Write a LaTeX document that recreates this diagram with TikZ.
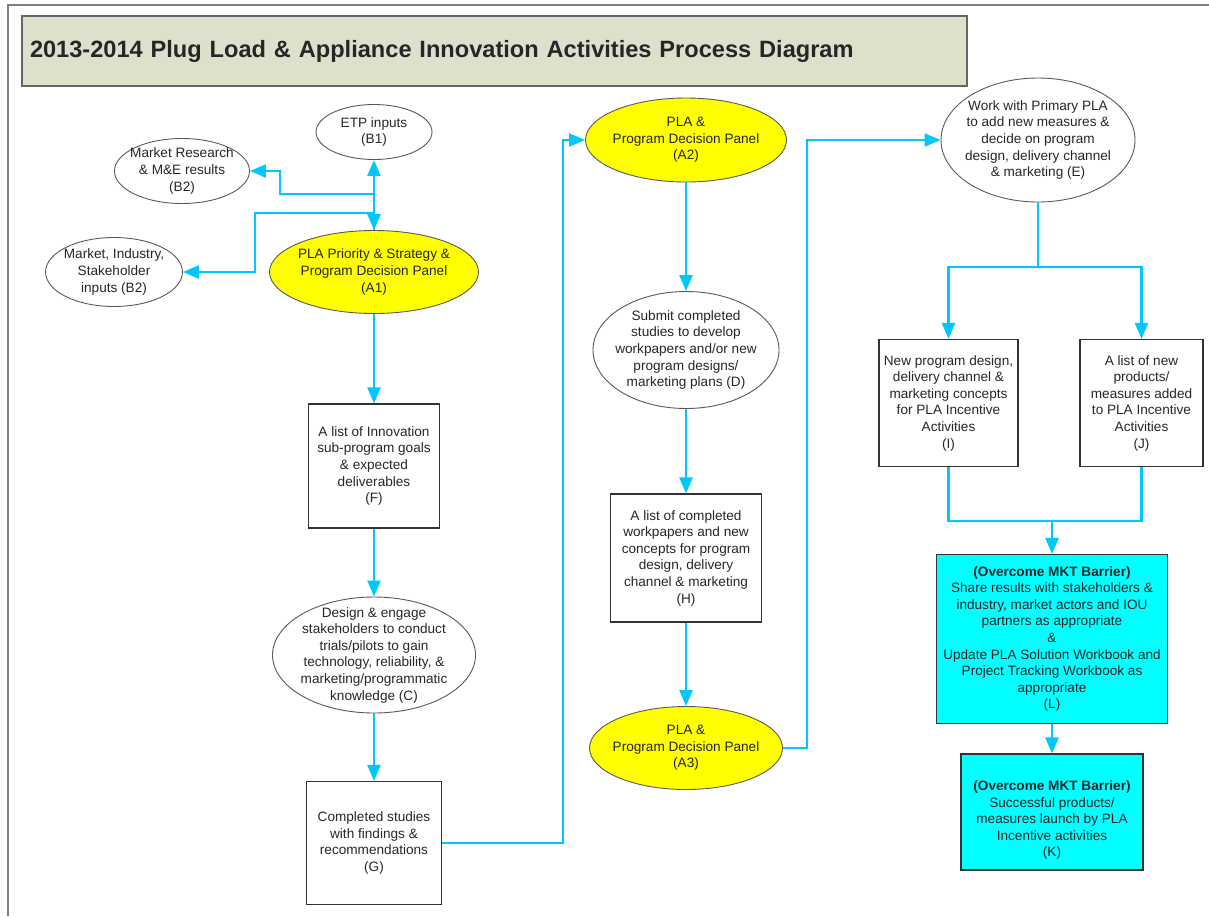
\documentclass[tikz,border=0pt]{standalone}
\usepackage{fontspec}
\setmainfont{Liberation Sans}
\usetikzlibrary{shapes.geometric,arrows.meta}

\definecolor{flowblue}{RGB}{0,200,255}
\definecolor{panelyellow}{RGB}{255,255,0}
\definecolor{barriercyan}{RGB}{0,255,255}
\definecolor{titlegreen}{RGB}{221,225,204}

\begin{document}
\begin{tikzpicture}[x=1pt, y=-1pt,
    every node/.style={font=\fontsize{13.6}{16.6}\selectfont, align=center, text=black!85},
    oval/.style={ellipse, draw=black!65, line width=0.9pt, inner sep=-40pt},
    panel/.style={oval, fill=panelyellow},
    listbox/.style={rectangle, draw=black!80, line width=1.1pt, inner sep=2pt},
    barrier/.style={listbox, fill=barriercyan},
    titlebox/.style={rectangle, draw=black!60, line width=1.5pt, fill=titlegreen,
                     inner xsep=8pt, text width=929pt, align=left,
                     font=\fontsize{23.6}{28}\selectfont\bfseries},
    link/.style={draw=flowblue, line width=2.4pt},
    flow/.style={link, -{Triangle[length=16pt,width=13pt]}},
    twoway/.style={link, {Triangle[length=16pt,width=13pt]}-{Triangle[length=16pt,width=13pt]}}]
  \useasboundingbox (0,0) rectangle (1209,916);
  \draw[black!50, line width=2pt] (8,916) -- (8,5) -- (1209,5);

  \node[titlebox, minimum width=945pt, minimum height=70pt] (title) at (494.5,51)
    {2013-2014 Plug Load \& Appliance Innovation Activities Process Diagram};

  % inputs and first panel
  \node[oval, minimum width=116pt, minimum height=55pt] (B1) at (374,132) {ETP inputs\\(B1)};
  \node[oval, minimum width=135pt, minimum height=65pt] (B2r) at (182,171) {Market Research\\\& M\&E results\\(B2)};
  \node[oval, minimum width=137pt, minimum height=69pt] (B2s) at (114,272) {Market, Industry,\\Stakeholder\\inputs (B2)};
  \node[panel, minimum width=209pt, minimum height=83pt] (A1) at (374,272) {PLA Priority \& Strategy \&\\Program Decision Panel\\(A1)};

  % left column
  \node[listbox, minimum width=131pt, minimum height=124pt] (F) at (374,466) {A list of Innovation\\sub-program goals\\\& expected\\deliverables\\(F)};
  \node[oval, minimum width=203pt, minimum height=116pt] (C) at (374,655) {Design \& engage\\stakeholders to conduct\\trials/pilots to gain\\technology, reliability, \&\\marketing/programmatic\\knowledge (C)};
  \node[listbox, minimum width=135pt, minimum height=123pt] (G) at (374,843) {Completed studies\\with findings \&\\recommendations\\(G)};

  % middle column
  \node[panel, minimum width=201pt, minimum height=84pt] (A2) at (686,140) {PLA \&\\Program Decision Panel\\(A2)};
  \node[oval, minimum width=186pt, minimum height=117pt] (D) at (686,350) {Submit completed\\studies to develop\\workpapers and/or new\\program designs/\\marketing plans (D)};
  \node[listbox, minimum width=151pt, minimum height=128pt] (H) at (686,558) {A list of completed\\workpapers and new\\concepts for program\\design, delivery\\channel \& marketing\\(H)};
  \node[panel, minimum width=193pt, minimum height=83pt] (A3) at (686,748) {PLA \&\\Program Decision Panel\\(A3)};

  % right column
  \node[oval, minimum width=194pt, minimum height=124pt] (E) at (1038,140) {Work with Primary PLA\\to add new measures \&\\decide on program\\design, delivery channel\\\& marketing (E)};
  \node[listbox, minimum width=139pt, minimum height=127pt] (I) at (948.5,403) {New program design,\\delivery channel \&\\marketing concepts\\for PLA Incentive\\Activities\\(I)};
  \node[listbox, minimum width=123pt, minimum height=127pt] (J) at (1141.5,403) {A list of new\\products/\\measures added\\to PLA Incentive\\Activities\\(J)};
  \node[barrier, minimum width=231pt, minimum height=169pt] (L) at (1052,639) {\textbf{(Overcome MKT Barrier)}\\Share results with stakeholders \&\\industry, market actors and IOU\\partners as appropriate\\\&\\Update PLA Solution Workbook and\\Project Tracking Workbook as\\appropriate\\(L)};
  \node[barrier, minimum width=182pt, minimum height=116pt] (K) at (1052,812) {\rule{0pt}{26pt}\textbf{(Overcome MKT Barrier)}\\Successful products/\\measures launch by PLA\\Incentive activities\\(K)};

  \coordinate (split) at (1038,267);
  \coordinate (join) at (1052,521);

  % connectors
  \draw[flow] (A1.north) -- (B1.south);
  \draw[flow] (A1.north) -- ++(0,-36) -- ++(-94,0) |- (B2r.east);
  \draw[twoway] (A1.north) -- ++(0,-17) -- ++(-119,0) |- (B2s.east);
  \draw[flow] (A1) -- (F);
  \draw[flow] (F) -- (C);
  \draw[flow] (C) -- (G);
  \draw[flow] (G.east) -- ++(121,0) |- (A2.west);
  \draw[flow] (A2) -- (D);
  \draw[flow] (D) -- (H);
  \draw[flow] (H) -- (A3);
  \draw[flow] (A3.east) -- ++(24,0) |- (E.west);
  \draw[link] (E.south) -- (split);
  \draw[flow] (split) -| (I.north);
  \draw[flow] (split) -| (J.north);
  \draw[link] (I.south) |- (join);
  \draw[link] (J.south) |- (join);
  \draw[flow] (join) -- (L.north);
  \draw[flow] (L) -- (K);
\end{tikzpicture}
\end{document}
